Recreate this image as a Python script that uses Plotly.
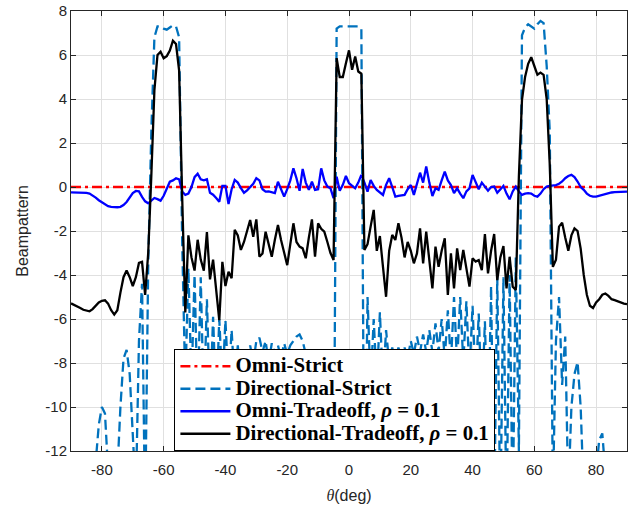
import plotly.graph_objects as go

# ---------------- data ----------------
theta = list(range(-90, 91))  # degrees, 1-degree grid

omni_strict_theta = [-90, 90]
omni_strict = [0.0, 0.0]

directional_strict = [
    -25, -24, -22, -20, -19, -18, -16, -14, -12.5, -10.8,          # -90..-81
    -10.0, -10.3, -12.5, -16, -18, -13, -10, -7.8, -7.4, -8.5,     # -80..-71
    -11, -14, -7.0, -4.4, -15, -3.5, 2.5, 6.8, 7.3, 7.3,           # -70..-61
    7.2, 7.15, 7.25, 7.35, 7.3, 6.8, -2.5, -9, -3.7, -9,           # -60..-51
    -4.0, -10, -4.1, -10, -5.1, -10, -5.9, -10, -6.0, -9,          # -50..-41
    -6.05, -9, -6.5, -9, -7.2, -9, -7.5, -8, -7.2, -8,             # -40..-31
    -7.0, -6.85, -7.5, -7.0, -8, -7.1, -7.6, -7.2, -7.8, -7.1,     # -30..-21
    -7.6, -7.2, -7.0, -6.8, -6.7, -7.0, -7.6, -8, -7.8, -8.5,      # -20..-11
    -8, -8.5, -8.2, -9, -10, -16, 7.2, 7.3, 7.3, 7.3,              # -10..-1
    7.3,                                                           # 0
    7.3, 7.3, 7.3, 7.2, -16, -5.0, -9, -6.0, -9, -5.7,             # 1..10
    -9, -6.5, -8, -7.3, -8, -7.3, -7.8, -7.3, -7.8, -7.0,          # 11..20
    -7.6, -6.8, -7.5, -6.7, -7.5, -6.5, -7.5, -6.2, -7.5, -6.0,    # 21..30
    -7.8, -5.6, -8, -5.0, -8, -5.0, -8, -5.2, -8.5, -5.4,          # 31..40
    -9, -5.75, -10, -6.1, -12, -4.5, -15, -4.1, -15, -4.1,         # 41..50
    -15, -4.0, -15, -3.2, -12, 6.9, 7.25, 7.4, 7.3, 7.2,           # 51..60
    7.4, 7.55, 7.45, 5.5, 2.5, -14, -7.0, -5.0, -9, -6.8,          # 61..70
    -14, -10, -8.5, -7.95, -10, -16, -20, -22, -18, -13,           # 71..80
    -11.5, -11.2, -13, -17, -20, -22, -23, -24, -25, -25,          # 81..90
]

omni_tradeoff = [
    -0.24, -0.24, -0.24, -0.24, -0.25, -0.27, -0.30, -0.38, -0.48, -0.60,   # -90..-81
    -0.70, -0.80, -0.87, -0.90, -0.92, -0.92, -0.90, -0.82, -0.68, -0.48,   # -80..-71
    -0.28, -0.18, -0.20, -0.45, -0.65, -0.74, -0.60, -0.50, -0.55, -0.62,   # -70..-61
    -0.40, -0.10, 0.24, 0.30, 0.40, 0.35, -0.20, -0.36, -0.30, 0.00,        # -60..-51
    0.45, 0.60, 0.35, 0.30, 0.35, -0.26, -0.35, -0.50, -0.67, 0.05,         # -50..-41
    0.05, -0.77, -0.10, 0.32, 0.20, -0.05, -0.26, -0.15, 0.00, 0.15,        # -40..-31
    0.40, 0.30, -0.10, -0.21, -0.20, -0.25, -0.28, 0.24, -0.10, -0.44,      # -30..-21
    -0.10, 0.30, 0.85, 0.40, -0.17, 0.82, 0.20, -0.13, 0.24, -0.13,         # -20..-11
    -0.10, 0.85, 0.30, 0.02, -0.06, -0.51, 0.47, -0.17, 0.10, 0.50,         # -10..-1
    0.17,                                                                   # 0
    0.05, -0.06, 0.20, 0.55, 0.20, -0.21, 0.32, 0.05, -0.13, -0.26,         # 1..10
    -0.36, 0.10, 0.40, 0.00, -0.44, -0.40, -0.38, -0.36, -0.10, 0.09,       # 11..20
    -0.36, 0.20, 0.65, 0.20, 0.93, 0.20, -0.41, -0.06, -0.13, 0.30,         # 21..30
    0.70, 0.30, 0.09, -0.28, -0.06, -0.30, -0.51, -0.20, -0.06, 0.55,       # 31..40
    0.20, -0.10, 0.20, 0.00, -0.17, 0.00, 0.02, -0.26, -0.10, 0.05,         # 41..50
    -0.30, -0.56, -0.20, 0.02, -0.20, -0.36, -0.30, -0.28, -0.30, -0.40,    # 51..60
    -0.44, -0.30, -0.10, 0.02, 0.05, 0.07, 0.09, 0.15, 0.25, 0.40,          # 61..70
    0.50, 0.55, 0.45, 0.25, 0.00, -0.13, -0.30, -0.40, -0.44, -0.44,        # 71..80
    -0.40, -0.35, -0.30, -0.28, -0.25, -0.23, -0.22, -0.21, -0.21, -0.21,   # 81..90
]

directional_tradeoff = [
    -5.29, -5.35, -5.42, -5.50, -5.58, -5.63, -5.65, -5.55, -5.40, -5.25,   # -90..-81
    -5.17, -5.15, -5.30, -5.60, -5.80, -5.60, -4.80, -4.10, -3.80, -4.10,   # -80..-71
    -4.50, -4.10, -3.45, -3.40, -4.90, -3.00, 0.50, 4.40, 6.00, 6.15,       # -70..-61
    5.85, 5.95, 6.20, 6.65, 6.50, 5.30, -0.50, -5.70, -2.20, -3.20,         # -60..-51
    -3.80, -2.40, -3.30, -3.80, -2.05, -4.20, -3.30, -4.60, -6.05, -3.40,   # -50..-41
    -4.50, -3.85, -4.15, -1.95, -2.20, -2.86, -2.50, -2.00, -1.50, -2.26,   # -40..-31
    -1.47, -3.17, -3.02, -2.03, -2.60, -3.17, -2.40, -1.73, -2.41, -3.00,   # -30..-21
    -3.55, -2.60, -1.65, -2.50, -2.71, -2.79, -3.24, -2.30, -1.47, -3.17,   # -20..-11
    -1.65, -1.90, -2.03, -2.50, -3.00, -3.32, 5.86, 5.00, 5.00, 5.63,       # -10..-1
    6.21,                                                                   # 0
    5.33, 5.93, 5.25, 5.15, -2.86, -2.60, -1.80, -1.04, -2.90, -2.23,       # 1..10
    -3.63, -4.99, -2.90, -2.18, -2.41, -1.65, -2.30, -3.20, -2.50, -2.90,   # 11..20
    -3.47, -3.02, -1.88, -3.47, -2.03, -3.30, -4.61, -2.71, -3.63, -2.90,   # 21..30
    -2.33, -4.91, -3.02, -4.61, -2.79, -3.78, -2.86, -3.70, -4.53, -3.24,   # 31..40
    -3.39, -3.32, -3.78, -2.14, -3.93, -2.90, -2.14, -4.23, -3.20, -2.68,   # 41..50
    -4.61, -3.17, -4.53, -4.68, 0.50, 3.96, 5.00, 5.60, 5.90, 5.50,         # 51..60
    5.10, 5.20, 5.10, 4.00, 1.00, -3.63, -3.30, -1.80, -1.62, -2.30,        # 61..70
    -2.90, -2.20, -1.88, -2.00, -2.80, -4.00, -4.90, -5.40, -5.50, -5.25,   # 71..80
    -5.10, -4.90, -4.84, -4.95, -5.10, -5.14, -5.20, -5.25, -5.30, -5.32,   # 81..90
]

x_ticks = [-80, -60, -40, -20, 0, 20, 40, 60, 80]
y_ticks = [8, 6, 4, 2, 0, -2, -4, -6, -8, -10, -12]

names = [
    "Omni-Strict",
    "Directional-Strict",
    "Omni-Tradeoff, <i>\u03c1</i> = 0.1",
    "Directional-Tradeoff, <i>\u03c1</i> = 0.1",
]


def legend_label(s):
    return "<span style='font-size:20.9px'><b>" + s + "</b></span>"


# ---------------- figure ----------------
fig = go.Figure()
fig.add_trace(go.Scatter(x=omni_strict_theta, y=omni_strict, mode="lines", name=legend_label(names[0]),
                         line=dict(color="#FF0000", width=2.3, dash="10px,4px,3px,4px")))
fig.add_trace(go.Scatter(x=theta, y=directional_strict, mode="lines", name=legend_label(names[1]),
                         line=dict(color="#0072BD", width=2.3, dash="10px,5px")))
fig.add_trace(go.Scatter(x=theta, y=omni_tradeoff, mode="lines", name=legend_label(names[2]),
                         line=dict(color="#0000FF", width=2.3)))
fig.add_trace(go.Scatter(x=theta, y=directional_tradeoff, mode="lines", name=legend_label(names[3]),
                         line=dict(color="#000000", width=2.3)))

axis_common = dict(
    showgrid=True, gridcolor="#E0E0E0", gridwidth=1,
    showline=True, linecolor="#262626", linewidth=1, mirror="ticks",
    ticks="inside", ticklen=5, tickcolor="#262626", tickwidth=1,
    zeroline=False, automargin=False,
    tickfont=dict(family="Liberation Sans, Arial", size=15, color="#262626"),
)

fig.update_layout(
    template="none",
    width=644, height=506,
    margin=dict(l=71, r=17, t=11, b=55, pad=0),
    paper_bgcolor="white", plot_bgcolor="white",
    xaxis=dict(range=[-90, 90], tickvals=x_ticks, ticktext=[str(v) for v in x_ticks],
               ticklabelstandoff=5,
               title=dict(text="<span style='font-family:Liberation Serif'><i>\u03b8</i></span>(deg)",
                          font=dict(family="Liberation Sans, Arial", size=16, color="#262626"),
                          standoff=12),
               **axis_common),
    yaxis=dict(range=[-12, 8], tickvals=y_ticks, ticktext=[str(v) for v in y_ticks],
               title=dict(text="Beampattern",
                          font=dict(family="Liberation Sans, Arial", size=16, color="#262626"),
                          standoff=12),
               **axis_common),
    legend=dict(
        x=0.186, y=0.0, xanchor="left", yanchor="bottom",
        bgcolor="white", bordercolor="#000000", borderwidth=1,
        font=dict(family="Liberation Serif, Times New Roman", size=15, color="black"),
        itemwidth=50, tracegroupgap=0,
    ),
    showlegend=True,
)

fig.write_html("out.html",
               config={"displayModeBar": False},
               post_script="document.body.style.margin='0';document.body.style.padding='0';")
